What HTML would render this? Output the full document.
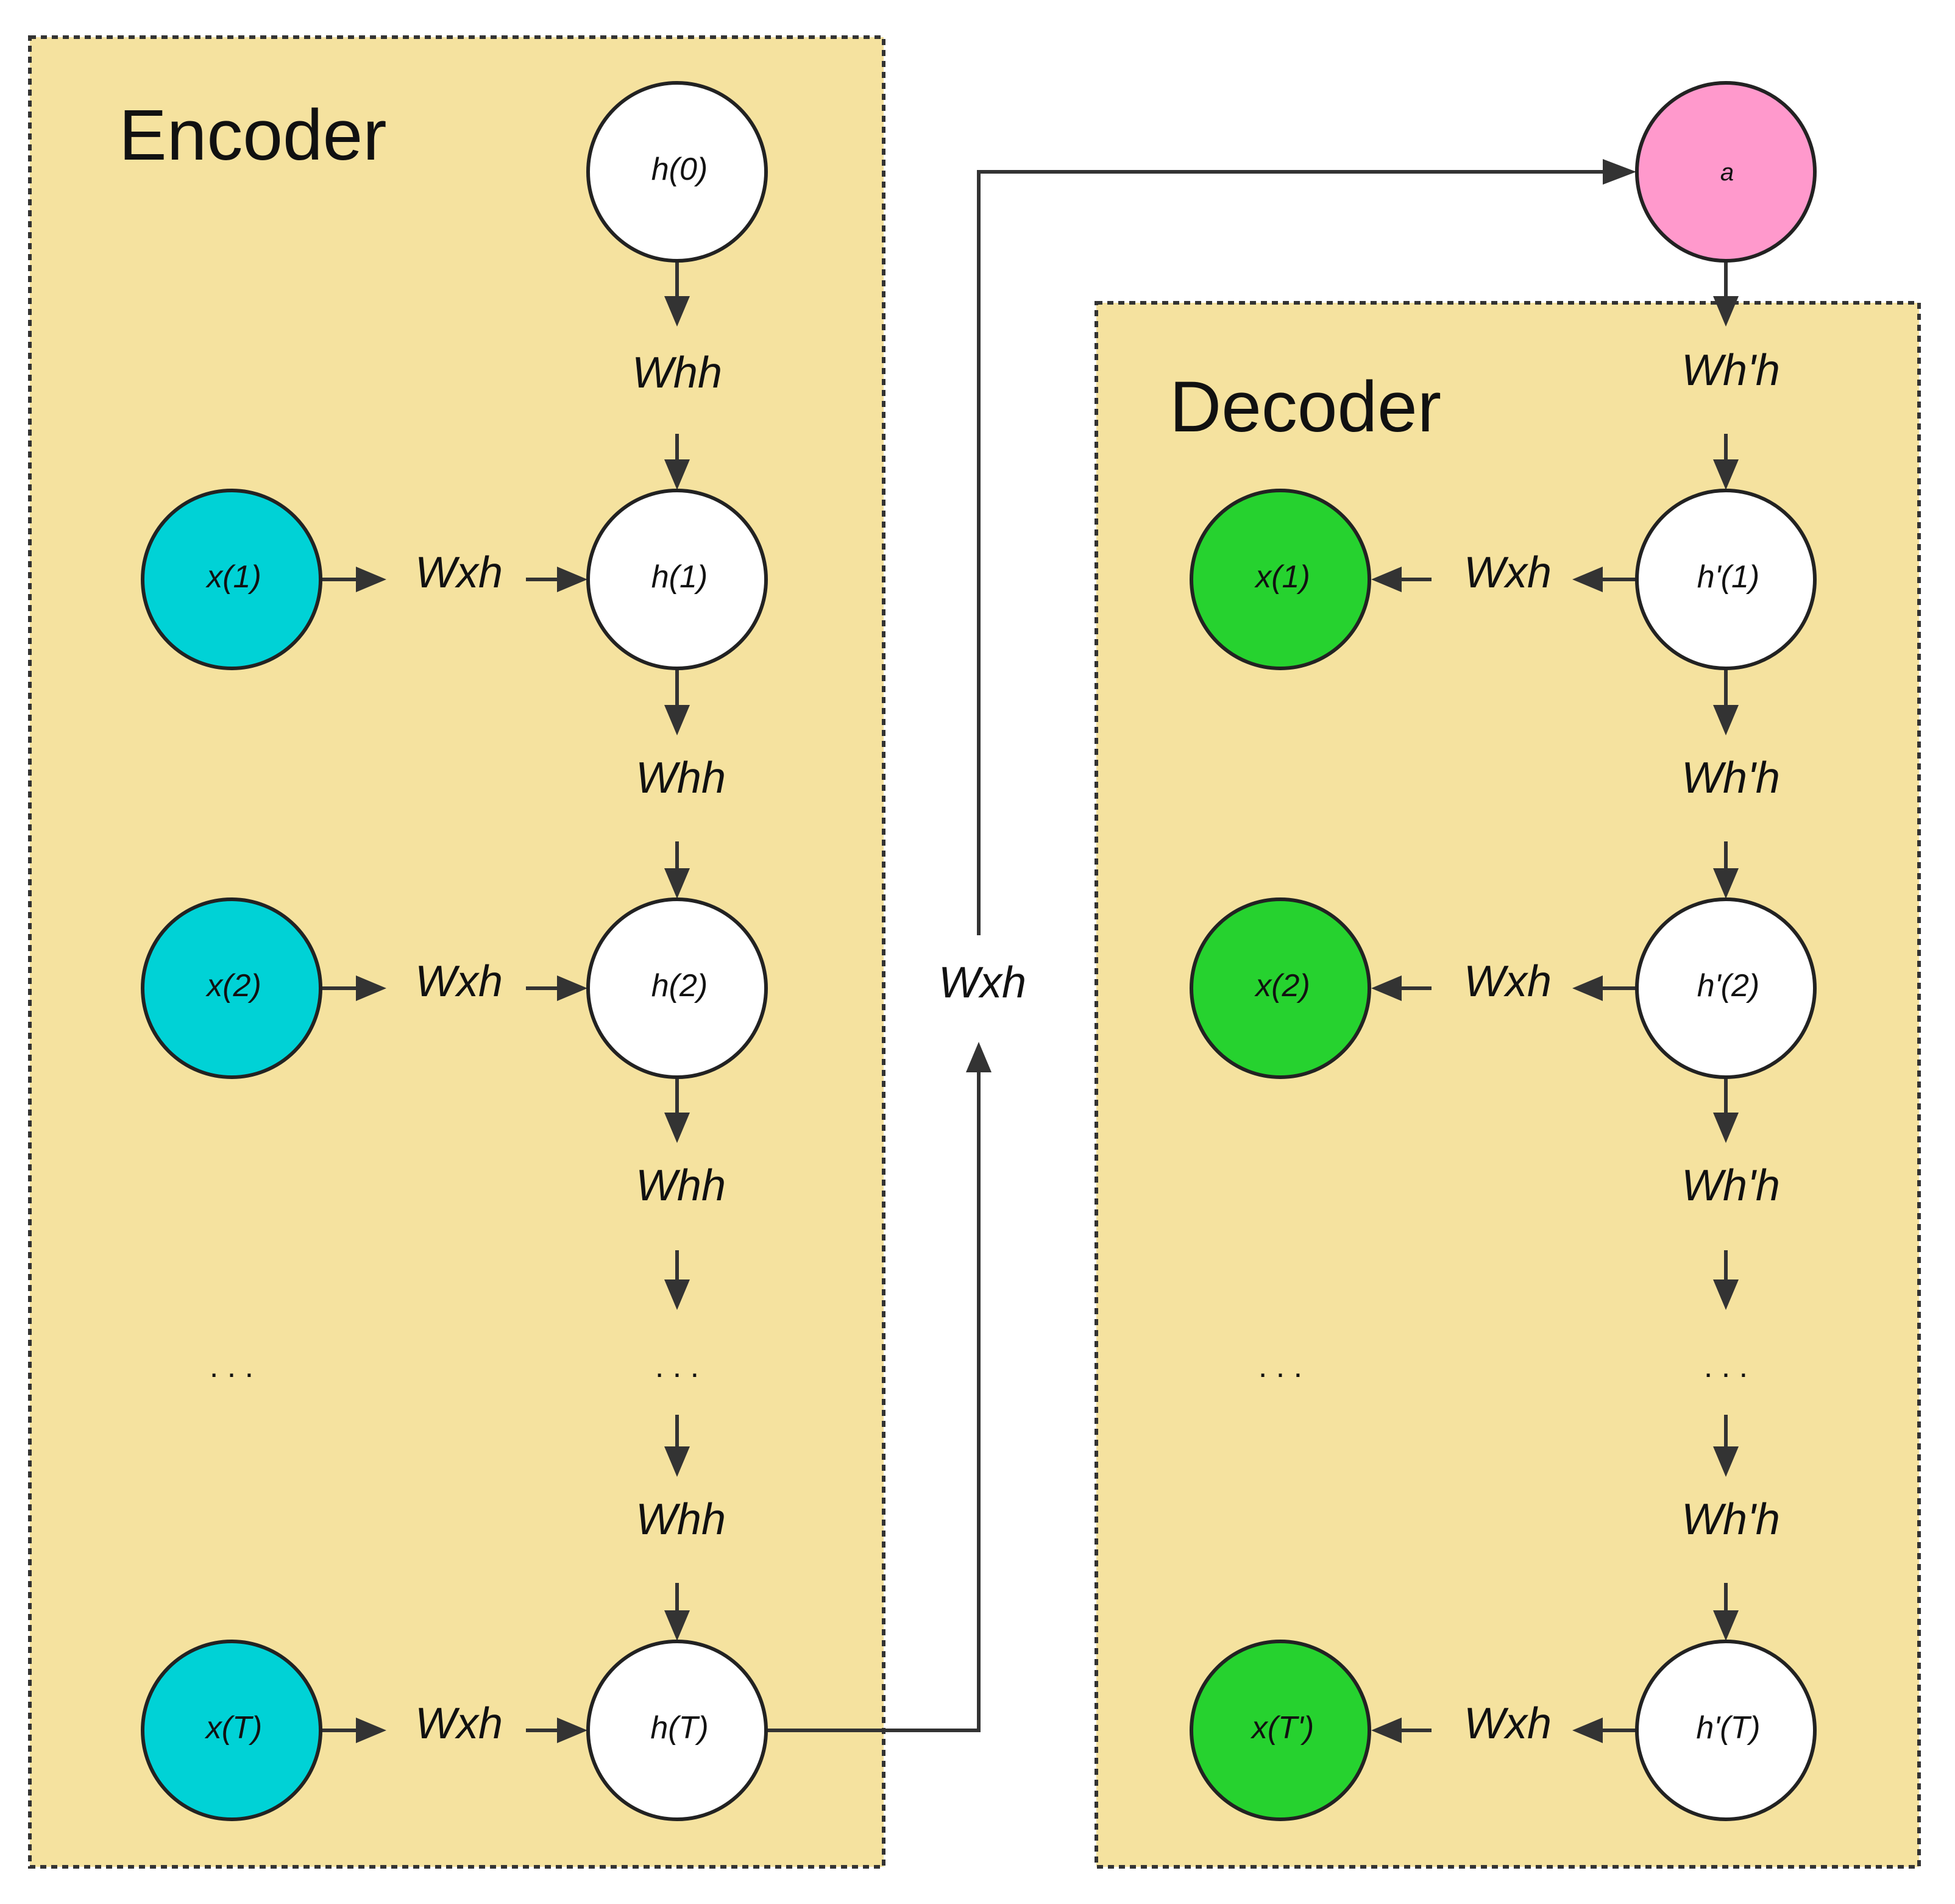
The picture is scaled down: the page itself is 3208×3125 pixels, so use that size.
<!DOCTYPE html>
<html><head><meta charset="utf-8"><style>
html,body{margin:0;padding:0;background:#fff;}
svg{display:block;}
text{font-family:"Liberation Sans",sans-serif;fill:#111;}
.it{font-style:italic;}
</style></head><body>
<svg width="3208" height="3125" viewBox="0 0 3208 3125" xmlns="http://www.w3.org/2000/svg">
<defs>
<marker id="ah" markerWidth="10" markerHeight="10" refX="9" refY="5" orient="auto" markerUnits="userSpaceOnUse" viewBox="0 0 10 10">
</marker>
</defs>
<!-- boxes -->
<rect x="49" y="61" width="1401" height="3003" fill="#f5e29f" stroke="#333" stroke-width="6" stroke-dasharray="10,8"/>
<rect x="1799" y="497" width="1350" height="2567" fill="#f5e29f" stroke="#333" stroke-width="6" stroke-dasharray="10,8"/>
<text x="195" y="262" font-size="118" fill="#333">Encoder</text>
<text x="1919" y="708" font-size="118" fill="#333">Decoder</text>

<g stroke="#333" stroke-width="6" fill="none">
<!-- encoder vertical -->
<line x1="1111" y1="430" x2="1111" y2="490"/>
<line x1="1111" y1="712" x2="1111" y2="760"/>
<line x1="1111" y1="1098" x2="1111" y2="1160"/>
<line x1="1111" y1="1381" x2="1111" y2="1430"/>
<line x1="1111" y1="1769" x2="1111" y2="1830"/>
<line x1="1111" y1="2052" x2="1111" y2="2105"/>
<line x1="1111" y1="2322" x2="1111" y2="2378"/>
<line x1="1111" y1="2598" x2="1111" y2="2648"/>
<!-- decoder vertical -->
<line x1="2832" y1="430" x2="2832" y2="490"/>
<line x1="2832" y1="712" x2="2832" y2="760"/>
<line x1="2832" y1="1098" x2="2832" y2="1160"/>
<line x1="2832" y1="1381" x2="2832" y2="1430"/>
<line x1="2832" y1="1769" x2="2832" y2="1830"/>
<line x1="2832" y1="2052" x2="2832" y2="2105"/>
<line x1="2832" y1="2322" x2="2832" y2="2378"/>
<line x1="2832" y1="2598" x2="2832" y2="2648"/>
<!-- encoder horizontals -->
<line x1="528" y1="951" x2="590" y2="951"/>
<line x1="863" y1="951" x2="920" y2="951"/>
<line x1="528" y1="1622" x2="590" y2="1622"/>
<line x1="863" y1="1622" x2="920" y2="1622"/>
<line x1="528" y1="2840" x2="590" y2="2840"/>
<line x1="863" y1="2840" x2="920" y2="2840"/>
<!-- decoder horizontals -->
<line x1="2685" y1="951" x2="2625" y2="951"/>
<line x1="2349" y1="951" x2="2295" y2="951"/>
<line x1="2685" y1="1622" x2="2625" y2="1622"/>
<line x1="2349" y1="1622" x2="2295" y2="1622"/>
<line x1="2685" y1="2840" x2="2625" y2="2840"/>
<line x1="2349" y1="2840" x2="2295" y2="2840"/>
<!-- connector -->
<polyline points="1258,2840 1606,2840 1606,1760"/>
<polyline points="1606,1535 1606,282 2630,282"/>
</g>
<g fill="#333">
<!-- down arrowheads -->
<polygon points="1090,486 1132,486 1111,536"/>
<polygon points="1090,754 1132,754 1111,804"/>
<polygon points="1090,1157 1132,1157 1111,1207"/>
<polygon points="1090,1425 1132,1425 1111,1475"/>
<polygon points="1090,1826 1132,1826 1111,1876"/>
<polygon points="1090,2100 1132,2100 1111,2150"/>
<polygon points="1090,2374 1132,2374 1111,2424"/>
<polygon points="1090,2643 1132,2643 1111,2693"/>
<polygon points="2811,486 2853,486 2832,536"/>
<polygon points="2811,754 2853,754 2832,804"/>
<polygon points="2811,1157 2853,1157 2832,1207"/>
<polygon points="2811,1425 2853,1425 2832,1475"/>
<polygon points="2811,1826 2853,1826 2832,1876"/>
<polygon points="2811,2100 2853,2100 2832,2150"/>
<polygon points="2811,2374 2853,2374 2832,2424"/>
<polygon points="2811,2643 2853,2643 2832,2693"/>
<!-- right arrowheads -->
<polygon points="584,930 584,972 634,951"/>
<polygon points="914,930 914,972 964,951"/>
<polygon points="584,1601 584,1643 634,1622"/>
<polygon points="914,1601 914,1643 964,1622"/>
<polygon points="584,2819 584,2861 634,2840"/>
<polygon points="914,2819 914,2861 964,2840"/>
<polygon points="2630,261 2630,303 2685,282"/>
<!-- left arrowheads -->
<polygon points="2630,930 2630,972 2580,951"/>
<polygon points="2300,930 2300,972 2250,951"/>
<polygon points="2630,1601 2630,1643 2580,1622"/>
<polygon points="2300,1601 2300,1643 2250,1622"/>
<polygon points="2630,2819 2630,2861 2580,2840"/>
<polygon points="2300,2819 2300,2861 2250,2840"/>
<!-- up arrowhead -->
<polygon points="1585,1760 1627,1760 1606,1710"/>
</g>

<!-- circles -->
<g stroke="#222" stroke-width="6">
<circle cx="1111" cy="282" r="146" fill="#fff"/>
<circle cx="1111" cy="951" r="146" fill="#fff"/>
<circle cx="1111" cy="1622" r="146" fill="#fff"/>
<circle cx="1111" cy="2840" r="146" fill="#fff"/>
<circle cx="380" cy="951" r="146" fill="#00d2d6"/>
<circle cx="380" cy="1622" r="146" fill="#00d2d6"/>
<circle cx="380" cy="2840" r="146" fill="#00d2d6"/>
<circle cx="2832" cy="282" r="146" fill="#ff99cc"/>
<circle cx="2832" cy="951" r="146" fill="#fff"/>
<circle cx="2832" cy="1622" r="146" fill="#fff"/>
<circle cx="2832" cy="2840" r="146" fill="#fff"/>
<circle cx="2101" cy="951" r="146" fill="#26d22f"/>
<circle cx="2101" cy="1622" r="146" fill="#26d22f"/>
<circle cx="2101" cy="2840" r="146" fill="#26d22f"/>
</g>

<g class="it" font-size="52" text-anchor="middle">
<text x="1115" y="295">h(0)</text>
<text x="1115" y="964">h(1)</text>
<text x="1115" y="1635">h(2)</text>
<text x="1115" y="2853">h(T)</text>
<text x="384" y="964">x(1)</text>
<text x="384" y="1635">x(2)</text>
<text x="384" y="2853">x(T)</text>
<text x="2836" y="964">h'(1)</text>
<text x="2836" y="1635">h'(2)</text>
<text x="2836" y="2853">h'(T)</text>
<text x="2105" y="964">x(1)</text>
<text x="2105" y="1635">x(2)</text>
<text x="2105" y="2853">x(T')</text>
<text x="2834" y="296" font-size="40">a</text>
</g>
<g class="it" font-size="72" text-anchor="middle">
<text x="1111" y="636">Whh</text>
<text x="1117" y="1301">Whh</text>
<text x="1117" y="1970">Whh</text>
<text x="1117" y="2518">Whh</text>
<text x="2840" y="632">Wh'h</text>
<text x="2840" y="1301">Wh'h</text>
<text x="2840" y="1970">Wh'h</text>
<text x="2840" y="2518">Wh'h</text>
<text x="753" y="964">Wxh</text>
<text x="753" y="1635">Wxh</text>
<text x="753" y="2853">Wxh</text>
<text x="2474" y="964">Wxh</text>
<text x="2474" y="1635">Wxh</text>
<text x="2474" y="2853">Wxh</text>
<text x="1612" y="1637">Wxh</text>
</g>
<g font-size="52" text-anchor="middle" fill="#333">
<text x="380" y="2260">. . .</text>
<text x="1111" y="2260">. . .</text>
<text x="2101" y="2260">. . .</text>
<text x="2832" y="2260">. . .</text>
</g>
</svg>
</body></html>
